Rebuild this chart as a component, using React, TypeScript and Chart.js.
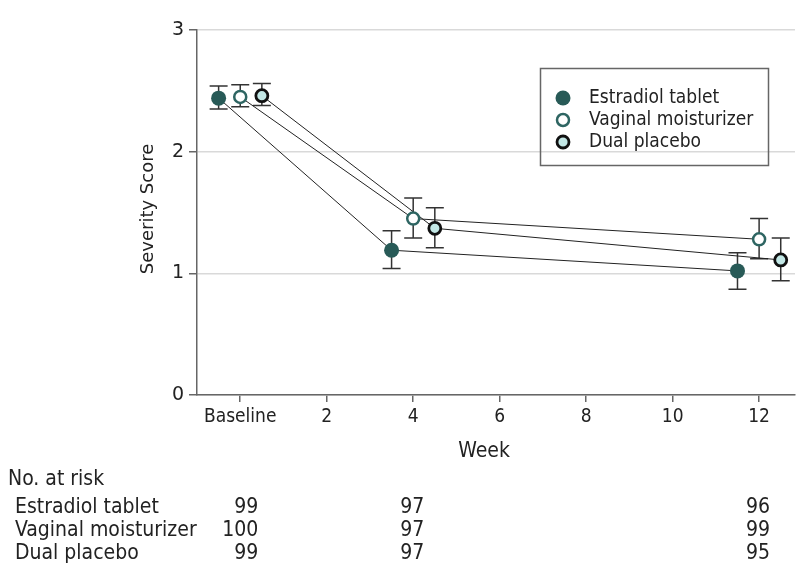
import React, { useEffect, useRef } from 'react';
import { Chart, registerables } from 'chart.js';

Chart.register(...registerables);

const seriesNames = ['Estradiol tablet', 'Vaginal moisturizer', 'Dual placebo'];

const estradiolX = [-0.5, 3.5, 11.5];
const estradiolMean = [2.44, 1.19, 1.02];
const estradiolLow = [2.35, 1.04, 0.87];
const estradiolHigh = [2.54, 1.35, 1.17];

const moisturizerX = [0, 4, 12];
const moisturizerMean = [2.45, 1.45, 1.28];
const moisturizerLow = [2.37, 1.29, 1.12];
const moisturizerHigh = [2.55, 1.62, 1.45];

const placeboX = [0.5, 4.5, 12.5];
const placeboMean = [2.46, 1.37, 1.11];
const placeboLow = [2.38, 1.21, 0.94];
const placeboHigh = [2.56, 1.54, 1.29];

const xTickValues = [0, 2, 4, 6, 8, 10, 12];
const xTickLabels = ['Baseline', '2', '4', '6', '8', '10', '12'];
const yTickValues = [0, 1, 2, 3];

const riskWeeks = [0, 4, 12];
const riskEstradiol = [99, 97, 96];
const riskMoisturizer = [100, 97, 99];
const riskPlacebo = [99, 97, 95];

const NARROW = '"Liberation Sans Narrow", "DejaVu Sans Condensed", "Roboto Condensed", sans-serif';
const WIDE = '"DejaVu Sans", Verdana, sans-serif';

const styles = [
  { fill: '#285a57', border: '#285a57', bw: 0, r: 7.5 },
  { fill: '#ffffff', border: '#2e6562', bw: 2.5, r: 6 },
  { fill: '#c3e8e6', border: '#111111', bw: 2.8, r: 6 },
];

const allX = [estradiolX, moisturizerX, placeboX];
const allMean = [estradiolMean, moisturizerMean, placeboMean];
const allLow = [estradiolLow, moisturizerLow, placeboLow];
const allHigh = [estradiolHigh, moisturizerHigh, placeboHigh];
const allRisk = [riskEstradiol, riskMoisturizer, riskPlacebo];

const extrasPlugin = {
  id: 'extras',
  beforeDatasetsDraw(chart: any) {
    const ctx = chart.ctx;
    const xs = chart.scales.x;
    const ys = chart.scales.y;
    ctx.save();
    ctx.strokeStyle = '#333';
    ctx.lineWidth = 1.5;
    for (let s = 0; s < 3; s++) {
      for (let i = 0; i < allX[s].length; i++) {
        const px = xs.getPixelForValue(allX[s][i]);
        const pl = ys.getPixelForValue(allLow[s][i]);
        const ph = ys.getPixelForValue(allHigh[s][i]);
        ctx.beginPath();
        ctx.moveTo(px, pl);
        ctx.lineTo(px, ph);
        ctx.moveTo(px - 9, pl);
        ctx.lineTo(px + 9, pl);
        ctx.moveTo(px - 9, ph);
        ctx.lineTo(px + 9, ph);
        ctx.stroke();
      }
    }
    ctx.restore();
  },
  afterDraw(chart: any) {
    const ctx = chart.ctx;
    const xs = chart.scales.x;
    ctx.save();
    // y title
    ctx.fillStyle = '#222';
    ctx.font = `18px ${WIDE}`;
    ctx.textAlign = 'center';
    ctx.textBaseline = 'middle';
    ctx.translate(148, 209);
    ctx.rotate(-Math.PI / 2);
    ctx.fillText('Severity Score', 0, 0);
    ctx.setTransform(1, 0, 0, 1, 0, 0);

    // x title
    ctx.font = `21px ${NARROW}`;
    ctx.fillText('Week', 484, 452);

    // legend
    ctx.strokeStyle = '#666';
    ctx.lineWidth = 1.5;
    ctx.strokeRect(540.5, 68.5, 228, 97);
    const rowsY = [98, 120, 142];
    ctx.textAlign = 'left';
    ctx.font = `19px ${NARROW}`;
    for (let s = 0; s < 3; s++) {
      const st = styles[s];
      ctx.beginPath();
      ctx.arc(563, rowsY[s], st.r, 0, Math.PI * 2);
      ctx.fillStyle = st.fill;
      ctx.fill();
      if (st.bw > 0) {
        ctx.lineWidth = st.bw;
        ctx.strokeStyle = st.border;
        ctx.stroke();
      }
      ctx.fillStyle = '#222';
      ctx.fillText(seriesNames[s], 589, rowsY[s]);
    }

    // at-risk table
    ctx.font = `21px ${NARROW}`;
    ctx.textAlign = 'left';
    ctx.fillText('No. at risk', 8, 480);
    const tableY = [508, 531, 554];
    for (let s = 0; s < 3; s++) {
      ctx.textAlign = 'left';
      ctx.fillText(seriesNames[s], 15, tableY[s]);
      ctx.textAlign = 'right';
      for (let i = 0; i < riskWeeks.length; i++) {
        const px = xs.getPixelForValue(riskWeeks[i]);
        ctx.fillText(String(allRisk[s][i]), px + (i === 0 ? 18 : 11), tableY[s]);
      }
    }
    ctx.restore();
  },
};

export default function App() {
  const ref = useRef<HTMLCanvasElement | null>(null);
  useEffect(() => {
    document.body.style.margin = '0';
    const canvas = ref.current!;
    const datasets = [0, 1, 2].map((s) => ({
      label: seriesNames[s],
      data: allX[s].map((x, i) => ({ x, y: allMean[s][i] })),
      showLine: true,
      borderColor: '#222',
      borderWidth: 1,
      pointRadius: styles[s].r,
      pointHoverRadius: styles[s].r,
      pointBackgroundColor: styles[s].fill,
      pointBorderColor: styles[s].border,
      pointBorderWidth: styles[s].bw,
      fill: false,
      clip: false,
    }));
    const chart = new Chart(canvas, {
      type: 'scatter',
      data: { datasets },
      plugins: [extrasPlugin],
      options: {
        responsive: false,
        animation: false,
        devicePixelRatio: 1,
        layout: { autoPadding: false, padding: { top: 30, right: 3, left: 0, bottom: 0 } },
        plugins: { legend: { display: false }, tooltip: { enabled: false } },
        scales: {
          x: {
            type: 'linear',
            min: -1,
            max: 12.83,
            afterFit: (sc: any) => { sc.height = 193; },
            afterBuildTicks: (sc: any) => { sc.ticks = xTickValues.map((v) => ({ value: v })); },
            border: { display: true, color: '#666', width: 1.5 },
            grid: { drawOnChartArea: false, drawTicks: true, tickLength: 7, tickColor: '#666', lineWidth: 1.5 },
            ticks: {
              color: '#222',
              padding: 4,
              font: { family: NARROW, size: 19 },
              callback: (v: any) => { const k = xTickValues.indexOf(Number(v)); return k >= 0 ? xTickLabels[k] : ''; },
              maxRotation: 0,
              autoSkip: false,
            },
          },
          y: {
            type: 'linear',
            min: 0,
            max: 3,
            afterFit: (sc: any) => { sc.width = 197; },
            afterBuildTicks: (sc: any) => { sc.ticks = yTickValues.map((v) => ({ value: v })); },
            border: { display: true, color: '#666', width: 1.5 },
            grid: { color: '#d9d9d9', lineWidth: 1.5, tickColor: '#666', tickLength: 8 },
            ticks: { color: '#222', padding: 5, font: { family: WIDE, size: 19 } },
          },
        },
      },
    });
    return () => chart.destroy();
  }, []);
  return (
    <div style={{ width: 798, height: 588, background: '#fff' }}>
      <canvas ref={ref} width={798} height={588} style={{ width: 798, height: 588, display: 'block' }} />
    </div>
  );
}
